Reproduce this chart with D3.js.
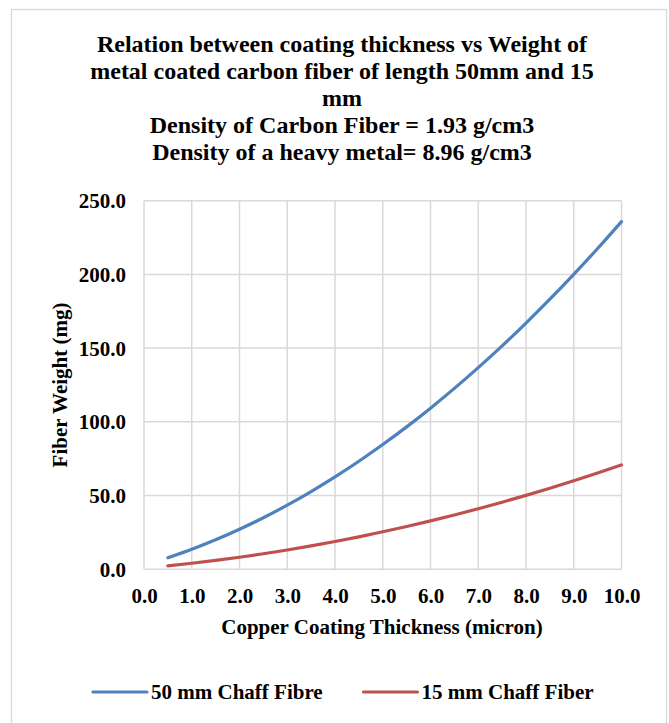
<!DOCTYPE html>
<html>
<head>
<meta charset="utf-8">
<script src="https://cdn.jsdelivr.net/npm/d3@7"></script>
<style>
  html, body { margin: 0; padding: 0; background: #fff; }
  svg { display: block; }
  text { font-family: "Liberation Serif", "Times New Roman", serif; font-weight: bold; fill: #000; }
</style>
</head>
<body>
<svg id="chart" width="669" height="723"></svg>
<script>
// ---- data ----
const titleLines = [
  "Relation between coating thickness vs Weight of",
  "metal coated carbon fiber of length 50mm and 15",
  "mm",
  "Density of Carbon Fiber = 1.93 g/cm3",
  "Density of a heavy metal= 8.96 g/cm3"
];
const thickness = [0.5, 1.0, 1.5, 2.0, 2.5, 3.0, 3.5, 4.0, 4.5, 5.0, 5.5, 6.0, 6.5, 7.0, 7.5, 8.0, 8.5, 9.0, 9.5, 10.0];
const weight50 = [7.70, 13.47, 19.93, 27.08, 34.92, 43.46, 52.70, 62.62, 73.24, 84.56, 96.56, 109.26, 122.66, 136.74, 151.52, 166.99, 183.17, 200.03, 217.58, 235.83];
const weight15 = [2.31, 4.04, 5.98, 8.12, 10.48, 13.04, 15.81, 18.79, 21.97, 25.37, 28.97, 32.78, 36.80, 41.02, 45.46, 50.10, 54.95, 60.01, 65.27, 70.75];
const seriesNames = ["50 mm Chaff Fibre", "15 mm Chaff Fiber"];
const seriesColors = ["#4F81BD", "#C0504D"];
const xTicks = [0, 1, 2, 3, 4, 5, 6, 7, 8, 9, 10];
const yTicks = [0, 50, 100, 150, 200, 250];
const xTitle = "Copper Coating Thickness (micron)";
const yTitle = "Fiber Weight (mg)";

(function () {
// ---- layout ----
const svg = d3.select("#chart");
const pLeft = 144, pRight = 621.5, pTop = 200.7, pBottom = 569.2;
const x = d3.scaleLinear().domain([0, 10]).range([pLeft, pRight]);
const y = d3.scaleLinear().domain([0, 250]).range([pBottom, pTop]);
const grid = "#d9d9d9";

// outer chart border
svg.append("rect").attr("x", 11.5).attr("y", 9.5).attr("width", 655).attr("height", 730)
  .attr("fill", "none").attr("stroke", grid).attr("stroke-width", 1.3);

// title
const titleBase = [52, 79, 106, 133, 160];
svg.append("g").selectAll("text").data(titleLines).join("text")
  .attr("x", 342).attr("y", (d, i) => titleBase[i])
  .attr("text-anchor", "middle").style("font-size", "24px")
  .text(d => d);

// gridlines
svg.append("g").selectAll("line").data(yTicks).join("line")
  .attr("x1", pLeft).attr("x2", pRight).attr("y1", d => y(d)).attr("y2", d => y(d))
  .attr("stroke", grid).attr("stroke-width", 1.5);
svg.append("g").selectAll("line").data(xTicks).join("line")
  .attr("y1", pTop).attr("y2", pBottom).attr("x1", d => x(d)).attr("x2", d => x(d))
  .attr("stroke", grid).attr("stroke-width", 1.5);

// axes (labels only)
const xAxis = d3.axisBottom(x).tickValues(xTicks).tickFormat(d3.format(".1f")).tickSize(0).tickPadding(0);
const gx = svg.append("g").attr("transform", `translate(0,${pBottom})`).call(xAxis);
gx.select(".domain").remove();
gx.selectAll("text").attr("y", 34).attr("dy", null).style("font-size", "21px")
  .style("font-family", "'Liberation Serif', serif").style("font-weight", "bold");

const yAxis = d3.axisLeft(y).tickValues(yTicks).tickFormat(d3.format(".1f")).tickSize(0).tickPadding(0);
const gy = svg.append("g").attr("transform", `translate(126,0)`).call(yAxis);
gy.select(".domain").remove();
gy.selectAll("text").attr("x", 0).attr("dy", "0.34em").style("font-size", "21px")
  .style("font-family", "'Liberation Serif', serif").style("font-weight", "bold");

// axis titles
svg.append("text").attr("x", 382).attr("y", 634).attr("text-anchor", "middle")
  .style("font-size", "21px").text(xTitle);
svg.append("text").attr("transform", `translate(67,${(pTop + pBottom) / 2}) rotate(-90)`)
  .attr("text-anchor", "middle").style("font-size", "21px").text(yTitle);

// lines
const line = d3.line().x(d => x(d[0])).y(d => y(d[1])).curve(d3.curveMonotoneX);
[weight50, weight15].forEach((vals, i) => {
  svg.append("path").datum(thickness.map((t, j) => [t, vals[j]]))
    .attr("d", line).attr("fill", "none").attr("stroke", seriesColors[i])
    .attr("stroke-width", 3.2).attr("stroke-linecap", "round");
});

// legend
const legendX = [93, 363.5];
seriesNames.forEach((name, i) => {
  svg.append("line").attr("x1", legendX[i]).attr("x2", legendX[i] + 54)
    .attr("y1", 692).attr("y2", 692).attr("stroke", seriesColors[i])
    .attr("stroke-width", 3.2).attr("stroke-linecap", "round");
  svg.append("text").attr("x", legendX[i] + 58).attr("y", 699)
    .style("font-size", "21px").text(name);
});
})();
</script>
</body>
</html>
